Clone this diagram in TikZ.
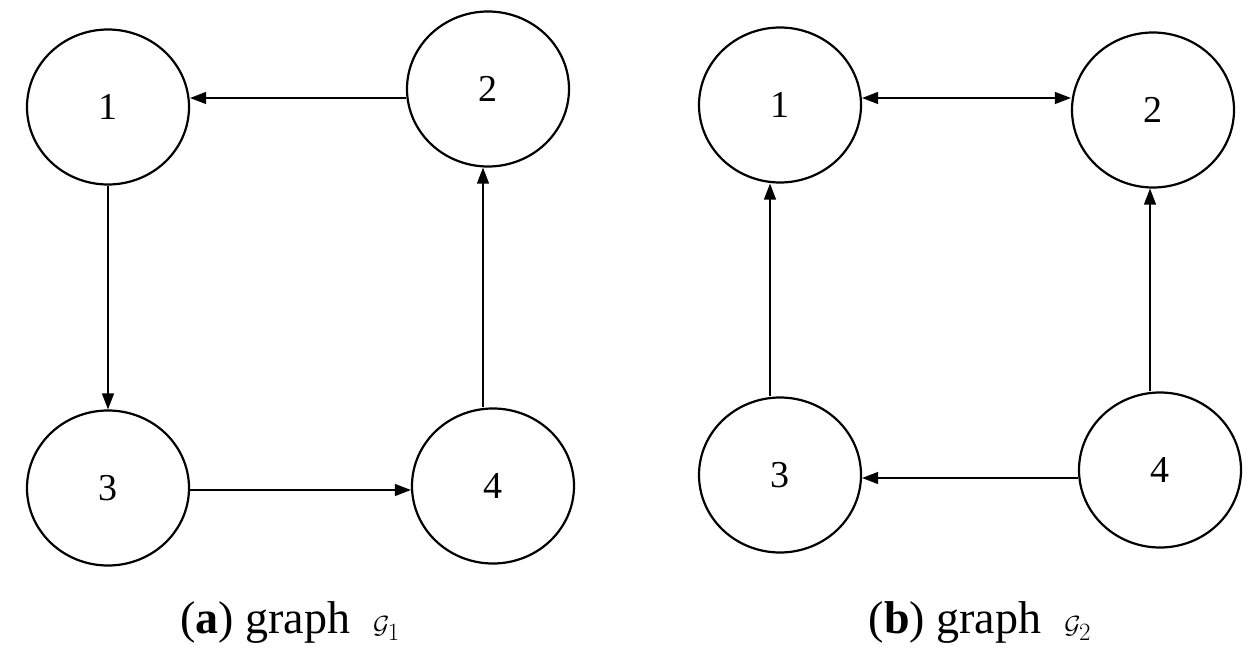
\documentclass[tikz,border=0pt]{standalone}
\usepackage{fontspec}
\setmainfont{Liberation Serif}
\usetikzlibrary{shapes.geometric,arrows.meta}
\begin{document}
\begin{tikzpicture}[x=1pt,y=-1pt,
  nd/.style={draw,ellipse,line width=2.2pt,minimum width=162pt,minimum height=155pt,inner sep=0pt,font=\fontsize{38}{40}\selectfont},
  ed/.style={line width=1.2pt,-{Triangle[length=16pt,width=12pt]}},
  captext/.style={font=\fontsize{46}{50}\selectfont}]
\useasboundingbox (0,0) rectangle (1257,668);
% graph a
\node[nd] (a1) at (108,107) {1};
\node[nd] (a2) at (488,89) {2};
\node[nd] (a3) at (108,488) {3};
\node[nd] (a4) at (493,486) {4};
\draw[ed] (a2.west|-0,98) -- (a1.east|-0,98);
\draw[ed] (a1.south) -- (a3.north);
\draw[ed] (a3.east|-0,490) -- (a4.west|-0,490);
\draw[ed] (a4.north-|483,0) -- (a2.south-|483,0);
\node[captext] (ca) at (290,622) {(\textbf{a}) graph\ \ $\mathcal{G}_1$};
% graph b
\node[nd] (b1) at (780,105) {1};
\node[nd] (b2) at (1153,110) {2};
\node[nd] (b3) at (780,475) {3};
\node[nd] (b4) at (1160,470) {4};
\draw[line width=1.2pt,{Triangle[length=16pt,width=12pt]}-{Triangle[length=16pt,width=12pt]}] (b1.east|-0,98) -- (b2.west|-0,98);
\draw[ed] (b3.north-|770,0) -- (b1.south-|770,0);
\draw[ed] (b4.north-|1150,0) -- (b2.south-|1150,0);
\draw[ed] (b4.west|-0,478) -- (b3.east|-0,478);
\node[captext] (cb) at (980,622) {(\textbf{b}) graph\ \ $\mathcal{G}_2$};
\end{tikzpicture}
\end{document}
